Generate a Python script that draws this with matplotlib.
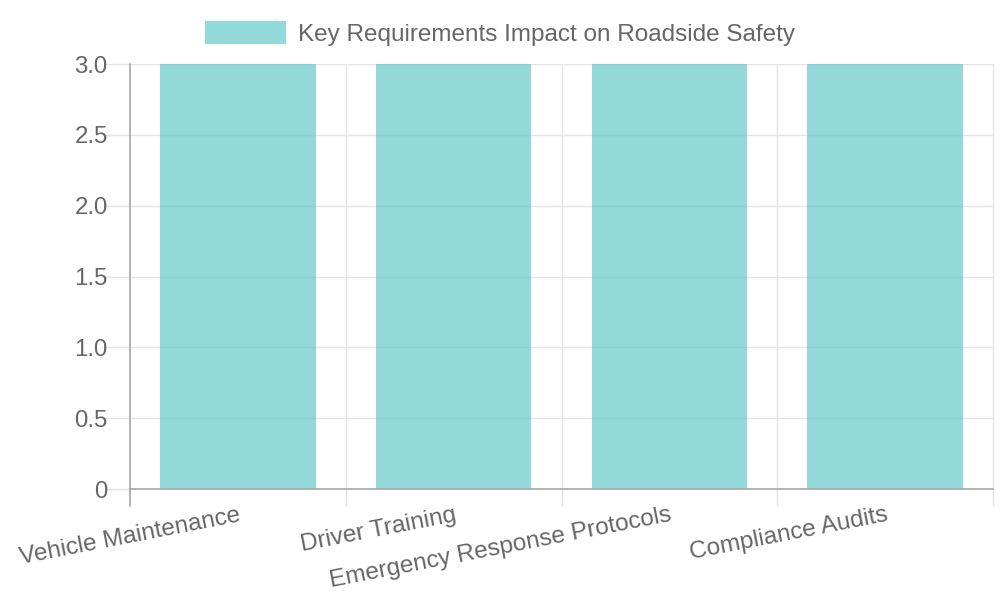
import matplotlib
matplotlib.use("Agg")
import matplotlib.pyplot as plt
import numpy as np

categories = ["Vehicle Maintenance", "Driver Training", "Emergency Response Protocols", "Compliance Audits"]
values = [3, 3, 3, 3]
series_name = "Key Requirements Impact on Roadside Safety"
y_ticks = [0, 0.5, 1.0, 1.5, 2.0, 2.5, 3.0]
y_tick_labels = ["0", "0.5", "1.0", "1.5", "2.0", "2.5", "3.0"]

plt.rcParams['font.family'] = ['Liberation Sans', 'DejaVu Sans']
text_color = "#666666"
grid_color = "#e5e5e5"
axis_color = "#a6a6a6"

fig = plt.figure(figsize=(10, 6), dpi=100)
ax = fig.add_axes([0.13, 0.185, 0.863, 0.7083])

x = np.arange(len(categories))
bars = ax.bar(x, values, width=0.72, color=(75/255, 192/255, 192/255, 0.6),
              linewidth=0, zorder=2, label=series_name)

ax.set_xlim(-0.5, len(categories) - 0.5)
ax.set_ylim(0, 3.0)

# grid
ax.set_yticks(y_ticks)
ax.set_yticklabels(y_tick_labels)
for yv in y_ticks[1:]:
    ax.axhline(yv, color=grid_color, lw=1, zorder=1)
ax.set_xticks(x)
ax.set_xticklabels(categories, rotation=11, ha='right', va='top', rotation_mode='anchor')
ax.tick_params(axis='x', length=0, pad=11, labelsize=17.6, labelcolor=text_color)
ax.tick_params(axis='y', length=18, width=1, color=grid_color, pad=-2, labelsize=17.3, labelcolor=text_color)

# vertical grid lines at category boundaries, extending below as ticks
bounds = np.arange(len(categories) + 1) - 0.5
trans = ax.get_xaxis_transform()
for i, b in enumerate(bounds):
    col = axis_color if i == 0 else grid_color
    ax.plot([b, b], [-0.04, 1.0], transform=trans, color=col, lw=1.2 if i == 0 else 1,
            clip_on=False, zorder=1 if i else 3)

for s in ['top', 'right', 'left']:
    ax.spines[s].set_visible(False)
ax.spines['bottom'].set_color(axis_color)
ax.spines['bottom'].set_linewidth(1.2)
ax.spines['bottom'].set_zorder(3)

# legend
fig.legend(handles=[bars], labels=[series_name], loc='upper center',
           bbox_to_anchor=(0.5, 1.002), frameon=False, fontsize=17.5,
           handlelength=3.3, handleheight=1.1, handletextpad=0.5,
           labelcolor=text_color)

fig.savefig("out.png", dpi=100)
